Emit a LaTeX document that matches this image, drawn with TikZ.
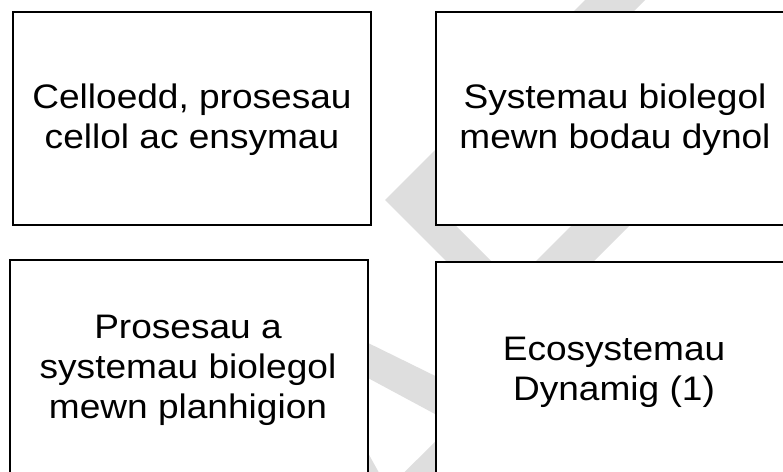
\documentclass[tikz,border=0pt]{standalone}
\usepackage{fontspec}
\setmainfont{Liberation Sans}
\usepackage{graphicx}
\definecolor{wmgray}{HTML}{DEDEDE}
\tikzset{
  card/.style={draw=black, line width=2pt, fill=white, rectangle, inner sep=0pt},
  cardtext/.style={inner sep=0pt, anchor=center, font=\fontsize{34}{40}\selectfont},
  wm/.style={fill=wmgray, draw=none}
}
\newcommand{\cardlines}[1]{\scalebox{1.09}[1]{\begin{tabular}{@{}c@{}}#1\end{tabular}}}
\begin{document}
\begin{tikzpicture}[x=1pt, y=-1pt]
\useasboundingbox (0,0) rectangle (783,471);
\clip (0,0) rectangle (783,471);
\fill[white] (0,0) rectangle (783,471);
% watermark
\path[wm] (605,-20) -- (385,200) -- (520,335) -- (875,-20) -- (817,-20) -- (513.5,283.5) -- (437.5,207.5) -- (665,-20) -- cycle;
\path[wm] (360,339) -- (440,378.3) -- (440,416.7) -- (360,373.7) -- cycle;
\path[wm] (440,437) -- (440,480) -- (396.5,480) -- cycle;
\path[wm] (360,438.6) -- (383,480) -- (360,480) -- cycle;
% boxes
\node[card, minimum width=358pt, minimum height=213pt] (b1) at (192,118.5) {};
\node[card, minimum width=359pt, minimum height=213pt] (b2) at (615.5,118.5) {};
\node[card, minimum width=358pt, minimum height=220pt] (b3) at (189,370) {};
\node[card, minimum width=359pt, minimum height=218pt] (b4) at (615.5,371) {};
% texts
\node[cardtext] (t1) at (192,120) {\cardlines{Celloedd, prosesau\\cellol ac ensymau}};
\node[cardtext] (t2) at (615,120) {\cardlines{Systemau biolegol\\mewn bodau dynol}};
\node[cardtext] (t3) at (188,370) {\cardlines{Prosesau a\\systemau biolegol\\mewn planhigion}};
\node[cardtext] (t4) at (614,372) {\cardlines{Ecosystemau\\Dynamig (1)}};
\end{tikzpicture}
\end{document}
